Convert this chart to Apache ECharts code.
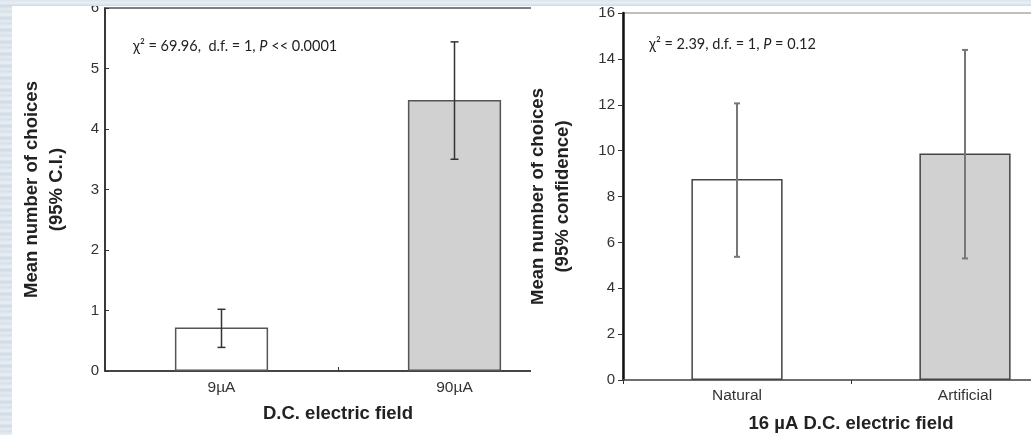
<!DOCTYPE html>
<html>
<head>
<meta charset="utf-8">
<script src="https://cdn.jsdelivr.net/npm/echarts@6/dist/echarts.min.js"></script>
<style>
  html, body { margin: 0; padding: 0; }
  body {
    width: 1031px; height: 435px; position: relative; overflow: hidden;
    background: repeating-linear-gradient(180deg, #dbe4ec 0px, #e9eef3 3px, #cfdae4 6px, #e4eaf0 9px, #d6dfe8 12px);
  }
  #leftWrap { position: absolute; left: 12px; top: 6px; width: 519px; height: 429px; background: #fff; overflow: hidden; }
  #rightWrap { position: absolute; left: 531px; top: 6px; width: 500px; height: 429px; background: #fff; overflow: hidden; }
  #left, #right { position: absolute; left: 0; top: 0; width: 620px; height: 429px; }
</style>
</head>
<body>
<div id="leftWrap"><div id="left"></div></div>
<div id="rightWrap"><div id="right"></div></div>
<script>
// ---- Data ----
const leftCategories = ['9\u00b5A', '90\u00b5A'];
const leftMeans = [0.72, 4.48];
const leftLow = [0.39, 3.50];
const leftHigh = [1.02, 5.44];
const leftYTicks = { min: 0, max: 6, interval: 1 };
const leftNote = '\u03c7\u00b2 = 69.96,  d.f. = 1, P << 0.0001';

const rightCategories = ['Natural', 'Artificial'];
const rightMeans = [8.76, 9.87];
const rightLow = [5.37, 5.30];
const rightHigh = [12.06, 14.39];
const rightYTicks = { min: 0, max: 16, interval: 2 };
const rightNote = '\u03c7\u00b2 = 2.39, d.f. = 1, P = 0.12';

// ---- Styles ----
const barFills = ['#ffffff', '#d0d1d0'];
const labelColor = '#333333';
const fontFamily = 'Liberation Sans, Arial, sans-serif';

function errorSeries(low, high, color, width, capHalf) {
  return {
    type: 'custom',
    z: 5,
    data: low.map((l, i) => [i, l, high[i]]),
    renderItem: function (params, api) {
      const x = api.value(0);
      const top = api.coord([x, api.value(2)]);
      const bot = api.coord([x, api.value(1)]);
      const st = { stroke: color, lineWidth: width };
      return {
        type: 'group',
        children: [
          { type: 'line', shape: { x1: top[0], y1: top[1], x2: bot[0], y2: bot[1] }, style: st },
          { type: 'line', shape: { x1: top[0] - capHalf, y1: top[1], x2: top[0] + capHalf, y2: top[1] }, style: st },
          { type: 'line', shape: { x1: bot[0] - capHalf, y1: bot[1], x2: bot[0] + capHalf, y2: bot[1] }, style: st }
        ]
      };
    }
  };
}

function noteGraphic(text, x, y) {
  const idx = text.lastIndexOf('P');
  return {
    type: 'text', left: x, top: y, z: 10,
    style: {
      text: '{n|' + text.slice(0, idx) + '}{i|P}{n|' + text.slice(idx + 1) + '}',
      rich: {
        n: { fontFamily: 'Lato, sans-serif', fontSize: 14.5, fill: '#222' },
        i: { fontFamily: 'Lato, sans-serif', fontSize: 14.5, fontStyle: 'italic', fill: '#222' }
      }
    }
  };
}

const nameStyle = { fontSize: 18.5, fontWeight: 'bold', color: '#222', fontFamily: fontFamily, lineHeight: 25 };

// ---- Left chart ----
const leftChart = echarts.init(document.getElementById('left'));
leftChart.setOption({
  animation: false,
  grid: { left: 93, top: 2, width: 466, height: 363, outerBoundsMode: 'none', containLabel: false,
          show: true, borderColor: '#555', borderWidth: 1.5, backgroundColor: 'transparent' },
  xAxis: {
    type: 'category', data: leftCategories,
    axisLine: { lineStyle: { color: '#333', width: 1.5 } },
    axisTick: { show: true, inside: true, length: 4, lineStyle: { color: '#333' } },
    axisLabel: { color: labelColor, fontSize: 15.5, fontFamily: fontFamily, margin: 9 },
    name: 'D.C. electric field', nameLocation: 'middle', nameGap: 30,
    nameTextStyle: nameStyle
  },
  yAxis: {
    type: 'value', min: leftYTicks.min, max: leftYTicks.max, interval: leftYTicks.interval,
    splitLine: { show: false },
    axisLine: { show: true, lineStyle: { color: '#222', width: 1.5 } },
    axisTick: { show: true, inside: true, length: 4, lineStyle: { color: '#333' } },
    axisLabel: { color: labelColor, fontSize: 15, fontFamily: fontFamily, margin: 6 },
    name: 'Mean number of choices\n(95% C.I.)', nameLocation: 'middle', nameGap: 36, nameRotate: 90,
    nameTextStyle: nameStyle
  },
  series: [
    {
      type: 'bar', barWidth: '40%',
      data: leftMeans.map((v, i) => ({ value: v, itemStyle: { color: barFills[i], borderColor: '#555', borderWidth: 1.5 } }))
    },
    errorSeries(leftLow, leftHigh, '#333', 1.5, 4)
  ],
  graphic: [noteGraphic(leftNote, 121, 33)]
});

// ---- Right chart ----
const rightChart = echarts.init(document.getElementById('right'));
rightChart.setOption({
  animation: false,
  grid: { left: 92, top: 7, width: 456, height: 367, outerBoundsMode: 'none', containLabel: false,
          show: true, borderColor: '#aaa', borderWidth: 1.5, backgroundColor: 'transparent' },
  xAxis: {
    type: 'category', data: rightCategories,
    axisLine: { lineStyle: { color: '#555', width: 1.5 } },
    axisTick: { show: true, inside: false, length: 4, lineStyle: { color: '#333' } },
    axisLabel: { color: labelColor, fontSize: 15.5, fontFamily: fontFamily, margin: 8 },
    name: '16 \u00b5A D.C. electric field', nameLocation: 'middle', nameGap: 31,
    nameTextStyle: nameStyle
  },
  yAxis: {
    type: 'value', min: rightYTicks.min, max: rightYTicks.max, interval: rightYTicks.interval,
    splitLine: { show: false },
    axisLine: { show: true, lineStyle: { color: '#111', width: 2.5 } },
    axisTick: { show: true, inside: false, length: 5, lineStyle: { color: '#333' } },
    axisLabel: { color: labelColor, fontSize: 15, fontFamily: fontFamily, margin: 8 },
    name: 'Mean number of choices\n(95% confidence)', nameLocation: 'middle', nameGap: 48, nameRotate: 90,
    nameTextStyle: nameStyle
  },
  series: [
    {
      type: 'bar', barWidth: '40%',
      data: rightMeans.map((v, i) => ({ value: v, itemStyle: { color: barFills[i], borderColor: '#444', borderWidth: 1.5 } }))
    },
    errorSeries(rightLow, rightHigh, '#777', 2, 3)
  ],
  graphic: [noteGraphic(rightNote, 118, 31)]
});
</script>
</body>
</html>
